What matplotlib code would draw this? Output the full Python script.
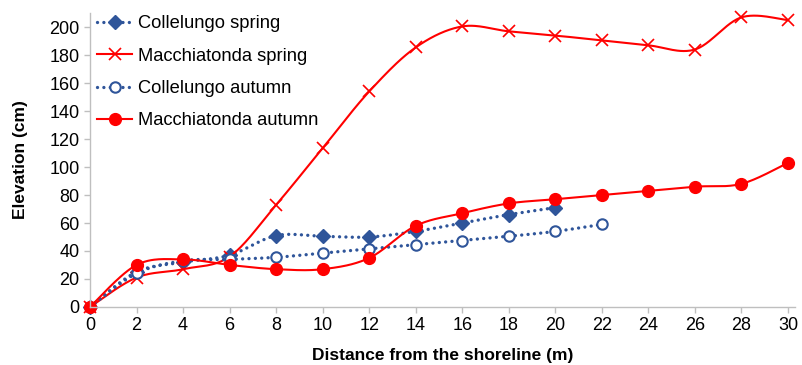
import numpy as np
import matplotlib.pyplot as plt
from matplotlib.lines import Line2D

plt.rcParams['font.family'] = ['Liberation Sans', 'DejaVu Sans']

# Elevation profiles (cm) against distance from the shoreline (m)
dist_colle = [0, 2, 4, 6, 8, 10, 12, 14, 16, 18, 20]
colle_spring = [0, 25, 32, 37, 51, 50.5, 50, 54, 60, 66, 71]

dist_colle_aut = [0, 2, 4, 6, 8, 10, 12, 14, 16, 18, 20, 22]
colle_autumn = [0, 24, 33, 34, 35.5, 38.5, 41.5, 44.5, 47.5, 50.5, 54, 59]

dist_macchia = [0, 2, 4, 6, 8, 10, 12, 14, 16, 18, 20, 22, 24, 26, 28, 30]
macchia_spring = [0, 21, 27, 36, 73, 113.5, 154, 185.5, 200.5, 197, 194, 190.5, 187, 184, 207, 205]
macchia_autumn = [0, 30, 34, 30, 27, 27, 35, 58, 67, 74, 77, 80, 83, 86, 88, 103]

BLUE = '#2F559A'
RED = '#FF0000'
DOT = (0, (0.01, 1.9))


def smooth(x, y, n=30):
    # Catmull-Rom style bezier through the points (spreadsheet "smoothed line")
    p = np.column_stack([x, y]).astype(float)
    p_ext = np.vstack([p[0], p, p[-1]])
    out = []
    t = np.linspace(0, 1, n)[:, None]
    for i in range(len(p) - 1):
        p0, p1, p2, p3 = p_ext[i], p_ext[i + 1], p_ext[i + 2], p_ext[i + 3]
        c1 = p1 + (p2 - p0) / 6
        c2 = p2 - (p3 - p1) / 6
        seg = ((1 - t) ** 3) * p1 + 3 * ((1 - t) ** 2) * t * c1 + 3 * (1 - t) * t ** 2 * c2 + t ** 3 * p2
        out.append(seg if i == 0 else seg[1:])
    s = np.vstack(out)
    return s[:, 0], s[:, 1]


fig = plt.figure(figsize=(8.02, 3.65), dpi=100)
ax = fig.add_axes([0.1122, 0.159, 0.879, 0.805])

# Collelungo spring
sx, sy = smooth(dist_colle, colle_spring)
ax.plot(sx, sy, color=BLUE, lw=2.4, linestyle=DOT, dash_capstyle='round', clip_on=False)
ax.plot(dist_colle, colle_spring, linestyle='none', marker='D', ms=7.5, color=BLUE, clip_on=False)

# Macchiatonda spring
sx, sy = smooth(dist_macchia, macchia_spring)
ax.plot(sx, sy, color=RED, lw=1.5, clip_on=False)
ax.plot(dist_macchia, macchia_spring, linestyle='none', marker='x', ms=9, mew=1.2, color=RED,
        clip_on=False)

# Collelungo autumn
sx, sy = smooth(dist_colle_aut, colle_autumn)
ax.plot(sx, sy, color=BLUE, lw=2.4, linestyle=DOT, dash_capstyle='round', clip_on=False)
ax.plot(dist_colle_aut, colle_autumn, linestyle='none', marker='o', ms=7.5, mew=1.5,
        mfc='white', mec=BLUE, clip_on=False)

# Macchiatonda autumn
sx, sy = smooth(dist_macchia, macchia_autumn)
ax.plot(sx, sy, color=RED, lw=1.5, clip_on=False)
ax.plot(dist_macchia, macchia_autumn, linestyle='none', marker='o', ms=8.5, color=RED,
        clip_on=False)

ax.set_xlim(0, 30.3)
ax.set_ylim(0, 210)
ax.set_xticks(np.arange(0, 31, 2))
ax.set_yticks(np.arange(0, 201, 20))
for side in ['top', 'right']:
    ax.spines[side].set_visible(False)
for side in ['left', 'bottom']:
    ax.spines[side].set_color('#BFBFBF')
    ax.spines[side].set_linewidth(1.0)
ax.tick_params(axis='both', colors='#BFBFBF', labelcolor='black', labelsize=13, length=4, width=1)
ax.set_xlabel('Distance from the shoreline (m)', fontsize=12.5, fontweight='bold', labelpad=10)
ax.set_ylabel('Elevation (cm)', fontsize=12.5, fontweight='bold', labelpad=15)

handles = [
    Line2D([], [], color=BLUE, lw=2.4, linestyle=DOT, dash_capstyle='round',
           marker='D', ms=7.5),
    Line2D([], [], color=RED, lw=1.5, marker='x', ms=9, mew=1.2),
    Line2D([], [], color=BLUE, lw=2.4, linestyle=DOT, dash_capstyle='round',
           marker='o', ms=7.5, mew=1.5, mfc='white', mec=BLUE),
    Line2D([], [], color=RED, lw=1.5, marker='o', ms=8.5),
]
labels = ['Collelungo spring', 'Macchiatonda spring', 'Collelungo autumn', 'Macchiatonda autumn']
ax.legend(handles, labels, loc='upper left', bbox_to_anchor=(0.0, 1.018), frameon=False,
          fontsize=13.2, handlelength=1.9, handletextpad=0.3, labelspacing=0.84,
          borderaxespad=0.2, borderpad=0.2)

fig.savefig('out.png', dpi=100)
